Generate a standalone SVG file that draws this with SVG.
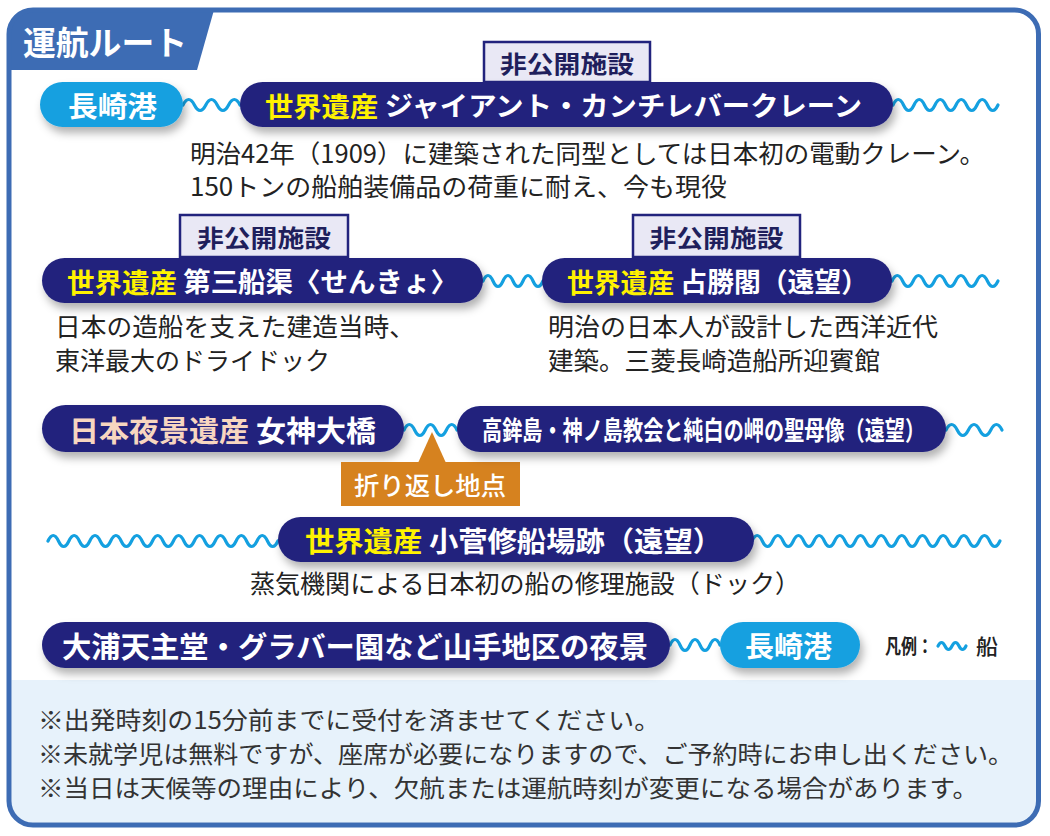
<svg xmlns="http://www.w3.org/2000/svg" width="1050" height="836" viewBox="0 0 1050 836">
<defs>
<style>
text{font-family:"Noto Sans CJK JP","Noto Sans",sans-serif;dominant-baseline:central;}
.pill{fill:#22237d;filter:url(#sh);}
.port{fill:#16a0e0;filter:url(#sh);}
.pt{font-weight:700;fill:#fff;}
.yl{fill:#fff200;}
.pk{fill:#f7d6c0;}
.box{fill:#e9e8f5;stroke:#22237d;stroke-width:2.5;}
.bt{font-weight:700;fill:#1f1f5c;font-size:24px;}
.desc{font-weight:400;fill:#222;font-size:25px;}
.note{font-weight:400;fill:#333;font-size:24px;}
.wave{fill:none;stroke:#14a0e0;stroke-width:3.2;stroke-linecap:round;}
</style>
<filter id="sh" x="-10%" y="-40%" width="120%" height="190%">
<feDropShadow dx="3" dy="6" stdDeviation="4" flood-color="#000" flood-opacity="0.3"/>
</filter>
</defs>

<g id="frame">
<rect x="9" y="10" width="1029.5" height="815" rx="24" fill="#fff"/>
<path d="M11.5,680 H1036 V801 Q1036,822.5 1014,822.5 H34 Q11.5,822.5 11.5,801 Z" fill="#e7f2fb"/>
<path d="M9,70 V34 A24,24 0 0 1 33,10 H214 L197,70 Z" fill="#3d6cb4"/>
<rect x="9" y="10" width="1029.5" height="815" rx="24" fill="none" stroke="#3d6cb4" stroke-width="5"/>
<text x="23" y="41" font-size="33" font-weight="700" fill="#fff" textLength="164" lengthAdjust="spacingAndGlyphs">運航ルート</text>
</g>

<g id="connectors">
<path class="wave" d="M183,105 q5.7,-11 11.4,0 t11.4,0 t11.4,0 t11.4,0 t11.4,0"/>
<path class="wave" d="M893,105 q5.25,-11 10.5,0 t10.5,0 t10.5,0 t10.5,0 t10.5,0 t10.5,0 t10.5,0 t10.5,0 t10.5,0 t10.5,0"/>
<path class="wave" d="M483,281 q5,-11 10,0 t10,0 t10,0 t10,0 t10,0 t10,0"/>
<path class="wave" d="M892,281 q5.3,-11 10.6,0 t10.6,0 t10.6,0 t10.6,0 t10.6,0 t10.6,0 t10.6,0 t10.6,0 t10.6,0 t10.6,0"/>
<path class="wave" d="M404,430 q5.3,-11 10.6,0 t10.6,0 t10.6,0 t10.6,0 t10.6,0"/>
<path class="wave" d="M946,430 q5.6,-11 11.2,0 t11.2,0 t11.2,0 t11.2,0 t11.2,0"/>
<path class="wave" d="M48,541 q5.225,-11 10.45,0 t10.45,0 t10.45,0 t10.45,0 t10.45,0 t10.45,0 t10.45,0 t10.45,0 t10.45,0 t10.45,0 t10.45,0 t10.45,0 t10.45,0 t10.45,0 t10.45,0 t10.45,0 t10.45,0 t10.45,0 t10.45,0 t10.45,0 t10.45,0 t10.45,0"/>
<path class="wave" d="M752,541 q5.165,-11 10.33,0 t10.33,0 t10.33,0 t10.33,0 t10.33,0 t10.33,0 t10.33,0 t10.33,0 t10.33,0 t10.33,0 t10.33,0 t10.33,0 t10.33,0 t10.33,0 t10.33,0 t10.33,0 t10.33,0 t10.33,0 t10.33,0 t10.33,0 t10.33,0 t10.33,0 t10.33,0 t10.33,0"/>
<path class="wave" d="M670,645 q5,-11 10,0 t10,0 t10,0 t10,0 t10,0"/>
</g>

<g id="nagasaki-port-start">
<rect class="port" x="40" y="82" width="143" height="45" rx="22.5"/>
<text class="pt" x="68" y="104.5" font-size="28" textLength="89" lengthAdjust="spacingAndGlyphs">長崎港</text>
</g>

<g id="giant-cantilever-crane">
<rect class="box" x="484" y="42" width="166" height="40"/>
<text class="bt" x="567" y="62" text-anchor="middle" textLength="134" lengthAdjust="spacingAndGlyphs">非公開施設</text>
<rect class="pill" x="240" y="82" width="653" height="45" rx="22.5"/>
<text class="pt" x="265" y="104.5" font-size="27" textLength="597" lengthAdjust="spacingAndGlyphs"><tspan class="yl">世界遺産</tspan> ジャイアント・カンチレバークレーン</text>
<text class="desc" x="190" y="152" textLength="795" lengthAdjust="spacingAndGlyphs">明治42年（1909）に建築された同型としては日本初の電動クレーン。</text>
<text class="desc" x="190" y="185" textLength="537" lengthAdjust="spacingAndGlyphs">150トンの船舶装備品の荷重に耐え、今も現役</text>
</g>

<g id="third-dock">
<rect class="box" x="180" y="215" width="168" height="42"/>
<text class="bt" x="264" y="236" text-anchor="middle" textLength="134" lengthAdjust="spacingAndGlyphs">非公開施設</text>
<rect class="pill" x="42" y="258" width="441" height="45" rx="22.5"/>
<text class="pt" x="67" y="280.5" font-size="27" textLength="391" lengthAdjust="spacingAndGlyphs"><tspan class="yl">世界遺産</tspan> 第三船渠〈せんきょ〉</text>
<text class="desc" x="55" y="325" textLength="360" lengthAdjust="spacingAndGlyphs">日本の造船を支えた建造当時、</text>
<text class="desc" x="55" y="359" textLength="275" lengthAdjust="spacingAndGlyphs">東洋最大のドライドック</text>
</g>

<g id="senshokaku">
<rect class="box" x="633" y="215" width="167" height="42"/>
<text class="bt" x="716.5" y="236" text-anchor="middle" textLength="134" lengthAdjust="spacingAndGlyphs">非公開施設</text>
<rect class="pill" x="542" y="258" width="350" height="45" rx="22.5"/>
<text class="pt" x="567" y="280.5" font-size="27" textLength="301" lengthAdjust="spacingAndGlyphs"><tspan class="yl">世界遺産</tspan> 占勝閣（遠望）</text>
<text class="desc" x="548" y="325" textLength="390" lengthAdjust="spacingAndGlyphs">明治の日本人が設計した西洋近代</text>
<text class="desc" x="548" y="359" textLength="332" lengthAdjust="spacingAndGlyphs">建築。三菱長崎造船所迎賓館</text>
</g>

<g id="megami-bridge">
<rect class="pill" x="42" y="405" width="362" height="47" rx="23.5"/>
<text class="pt" x="69" y="428.5" font-size="29" textLength="307" lengthAdjust="spacingAndGlyphs"><tspan class="pk">日本夜景遺産</tspan> 女神大橋</text>
</g>

<g id="turnaround-point">
<path d="M418,463 L432,432 L446,463 Z" fill="#d6821f"/>
<rect x="341" y="462" width="179" height="44" fill="#d6821f"/>
<text x="354" y="484" font-size="25" font-weight="500" fill="#fff" textLength="152" lengthAdjust="spacingAndGlyphs">折り返し地点</text>
</g>

<g id="takaboko-island">
<rect class="pill" x="457" y="406" width="489" height="46" rx="23"/>
<text class="pt" transform="translate(482,429) scale(0.775,1)" x="0" y="0" font-size="26" font-weight="500">高鉾島・神ノ島教会と純白の岬の聖母像（遠望）</text>
</g>

<g id="kosuge-slip-dock">
<rect class="pill" x="278" y="517" width="476" height="45" rx="22.5"/>
<text class="pt" x="305" y="539.5" font-size="28" textLength="417" lengthAdjust="spacingAndGlyphs"><tspan class="yl">世界遺産</tspan> 小菅修船場跡（遠望）</text>
<text class="desc" x="250" y="582" textLength="550" lengthAdjust="spacingAndGlyphs">蒸気機関による日本初の船の修理施設（ドック）</text>
</g>

<g id="oura-night-view">
<rect class="pill" x="42" y="622" width="628" height="46" rx="23"/>
<text class="pt" x="62" y="645" font-size="29" textLength="586" lengthAdjust="spacingAndGlyphs">大浦天主堂・グラバー園など山手地区の夜景</text>
</g>

<g id="nagasaki-port-end">
<rect class="port" x="720" y="622" width="140" height="46" rx="23"/>
<text class="pt" x="745" y="645" font-size="28" textLength="87" lengthAdjust="spacingAndGlyphs">長崎港</text>
</g>

<g id="legend">
<text x="885" y="645" font-size="20" font-weight="700" fill="#222" textLength="48" lengthAdjust="spacingAndGlyphs">凡例：</text>
<path class="wave" d="M938,646 q3.5,-7 7,0 t7,0 t7,0 t7,0" stroke-width="2"/>
<text x="976" y="645" font-size="21" font-weight="500" fill="#222" textLength="22" lengthAdjust="spacingAndGlyphs">船</text>
</g>

<g id="notes">
<text class="note" x="38" y="718" textLength="622" lengthAdjust="spacingAndGlyphs">※出発時刻の15分前までに受付を済ませてください。</text>
<text class="note" x="38" y="752" textLength="975" lengthAdjust="spacingAndGlyphs">※未就学児は無料ですが、座席が必要になりますので、ご予約時にお申し出ください。</text>
<text class="note" x="38" y="786" textLength="940" lengthAdjust="spacingAndGlyphs">※当日は天候等の理由により、欠航または運航時刻が変更になる場合があります。</text>
</g>
</svg>
